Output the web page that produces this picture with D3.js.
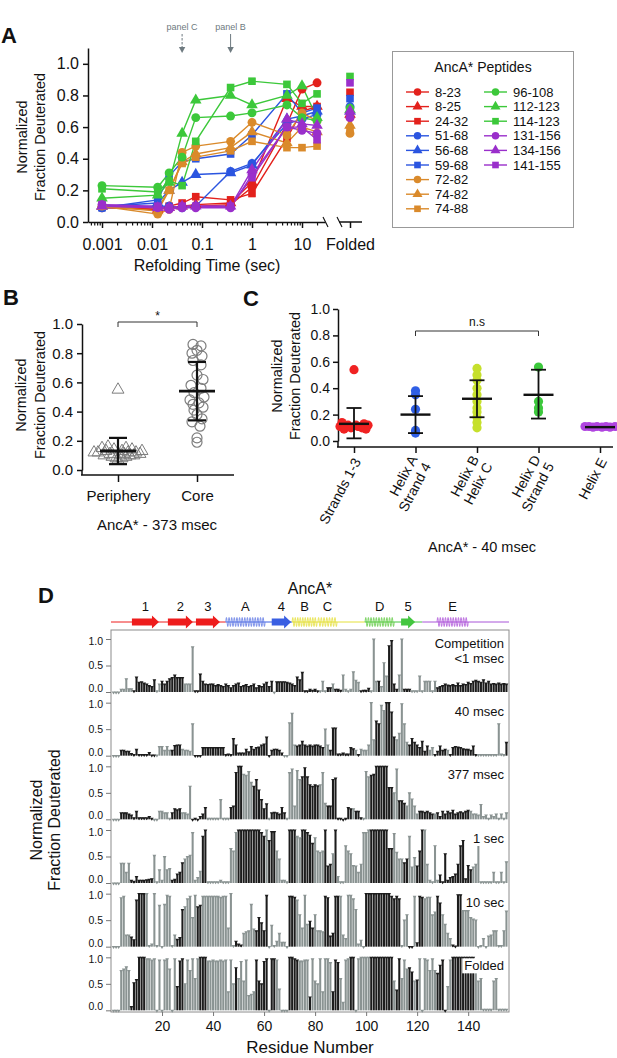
<!DOCTYPE html>
<html><head><meta charset="utf-8">
<script src="https://cdn.jsdelivr.net/npm/d3@7/dist/d3.min.js"></script>
<style>
html,body{margin:0;padding:0;background:#fff;}
svg{display:block;}
</style></head><body>
<svg id="chart" width="617" height="1058"></svg>
<script>
/* ================= DATA ================= */
// Panel A
const refoldTimes = [0.001, 0.013, 0.022, 0.04, 0.075, 0.373, 1, 5, 10, 20];
const peptideNames = ["8-23","8-25","24-32","51-68","56-68","59-68","72-82","74-82","74-88","96-108","112-123","114-123","131-156","134-156","141-155"];
const peptideValues = [
  [0.09,0.08,0.09,0.10,0.10,0.11,0.22,0.62,0.84,0.88],
  [0.10,0.08,0.09,0.10,0.11,0.12,0.25,0.78,0.73,0.73],
  [0.10,0.08,0.10,0.12,0.16,0.14,0.18,0.53,0.70,0.73],
  [0.09,0.10,0.10,0.09,0.10,0.32,0.37,0.62,0.65,0.68],
  [0.10,0.12,0.20,0.25,0.30,0.31,0.36,0.65,0.67,0.70],
  [0.09,0.14,0.29,0.38,0.40,0.43,0.55,0.81,0.69,0.72],
  [0.10,0.05,0.08,0.44,0.48,0.51,0.63,0.55,0.69,0.64],
  [0.10,0.07,0.20,0.38,0.43,0.47,0.57,0.50,0.60,0.57],
  [0.10,0.09,0.20,0.37,0.41,0.45,0.51,0.47,0.47,0.48],
  [0.23,0.22,0.31,0.41,0.66,0.67,0.69,0.74,0.66,0.64],
  [0.15,0.17,0.25,0.56,0.77,0.80,0.74,0.80,0.86,0.66],
  [0.21,0.19,0.26,0.23,0.51,0.85,0.89,0.87,0.75,0.81],
  [0.11,0.09,0.08,0.09,0.09,0.09,0.30,0.60,0.58,0.56],
  [0.10,0.09,0.09,0.10,0.10,0.10,0.33,0.65,0.62,0.61],
  [0.11,0.10,0.09,0.10,0.10,0.10,0.28,0.60,0.60,0.52]
];
const foldedValues = [0.66,0.68,0.82,0.73,0.70,0.78,0.56,0.61,0.59,0.72,0.71,0.92,0.66,0.70,0.88];
const timeTicks = [0.001, 0.01, 0.1, 1, 10];
const timeTickLabels = ["0.001","0.01","0.1","1","10"];
const fracTicks = [0, 0.2, 0.4, 0.6, 0.8, 1.0];
const panelArrowTimes = [0.04, 0.373];
const panelArrowLabels = ["panel C", "panel B"];

// Panel B
const bCategories = ["Periphery", "Core"];
const peripheryValues = [0.55,0.16,0.15,0.15,0.14,0.14,0.13,0.13,0.12,0.12,0.12,0.11,0.11,0.11,0.10,0.10,0.10,0.09,0.09,0.08,0.08,0.07,0.12,0.13,0.10];
const peripheryOffsets = [0,-10,8,-16,14,-4,4,-12,10,-20,18,-8,6,22,-14,2,12,-6,8,-2,4,0,-24,24,16];
const coreValues = [0.86,0.85,0.82,0.80,0.78,0.75,0.72,0.65,0.62,0.58,0.56,0.53,0.50,0.48,0.46,0.45,0.43,0.41,0.38,0.35,0.33,0.30,0.22,0.19];
const coreOffsets = [-4,4,0,-5,5,-4,4,0,6,-6,4,-3,7,-7,2,-4,6,-3,0,5,-5,3,0,0];
const bMean = [0.13, 0.54];
const bSdLow = [0.04, 0.34];
const bSdHigh = [0.22, 0.74];

// Panel C
const cCategories = ["Strands 1-3", "Helix A Strand 4", "Helix B Helix C", "Helix D Strand 5", "Helix E"];
const cLabelLines = [["Strands 1-3"], ["Helix A","Strand 4"], ["Helix B","Helix C"], ["Helix D","Strand 5"], ["Helix E"]];
const strandsValues = [0.54,0.14,0.13,0.12,0.12,0.11,0.11,0.10,0.10,0.10,0.09,0.09,0.12,0.11];
const strandsOffsets = [0,-12,10,-6,14,-14,4,-9,8,-3,12,-10,2,6];
const helixAValues = [0.38,0.35,0.24,0.08,0.06];
const helixBCValues = [0.55,0.50,0.46,0.40,0.35,0.30,0.25,0.22,0.18,0.14,0.10];
const helixDValues = [0.56,0.30,0.25,0.22];
const helixEValues = [0.11,0.11,0.105,0.11,0.105,0.11,0.105,0.11];
const helixEOffsets = [-15,-11,-7,-3,2,6,10,15];
const cMean = [0.13, 0.20, 0.32, 0.35, 0.105];
const cSdLow = [0.02, 0.06, 0.18, 0.17, null];
const cSdHigh = [0.25, 0.34, 0.46, 0.54, null];

// Panel D
const residueTicks = [20, 40, 60, 80, 100, 120, 140];
const dTimeLabels = [["Competition","<1 msec"], ["40 msec"], ["377 msec"], ["1 sec"], ["10 sec"], ["Folded"]];
const dRow1 = [0,0,0,0.05,0.05,0.25,0.06,0.06,0.02,0.28, 0.18,0.19,0.17,0.15,0.12,0.1,0.23,0.02,0.15,0.2, 0.15,0.2,0.25,0.27,0.32,0.27,0.27,0.27,0.15,0.15, 0.15,0.85,0.02,0.02,0.34,0.2,0.15,0.14,0.15,0.15, 0.12,0.14,0.12,0.1,0.15,0.12,0.08,0.12,0.15,0.17, 0.1,0.12,0.14,0.1,0.12,0.15,0.08,0.12,0.1,0.15, 0.18,0.1,0.2,0,0.19,0.19,0.19,0.19,0.18,0.17, 0.15,0.12,0.28,0.23,0.37,0.02,0.02,0.05,0.03,0.05, 0.02,0.02,0.2,0.02,0.08,0.08,0.15,0.05,0.05,0.03, 0.32,0.05,0.02,0.05,0.38,0.22,0.18,0.02,0.03,0.03, 0.07,0.02,1.0,0.2,0.2,0.1,0.55,0.3,0.87,0.97, 0.15,0.05,0.32,1.0,0.05,0.05,0.05,0.02,0.02,0.02, 0.3,0.02,0.2,0.2,0.2,0.02,0.2,0.08,0.1,0.12, 0.15,0.13,0.12,0.14,0.12,0.17,0.12,0.15,0.14,0.18, 0.16,0.2,0.22,0.2,0.18,0.23,0.17,0.2,0.15,0.16, 0.15,0.17,0.15,0.16,0.15];
const dRow1Shade = "ggggggggkk"+"kkkkkkkggk"+"kkkkkkkkgg"+"ggkkkkkkkk"+"kkkkkkkkkk"+"kkkkkkkkkk"+"kkkgkkkkkk"+"kkkkkkkkkk"+"kgggkkgkkk"+"gggggggkkk"+"kgggkgggkk"+"kkggkkkggg"+"gggggggkkk"+"kkkkkkkkkk"+"kkkkkkkkkk"+"kkkkk";
const dRow2 = [0,0,0,0.1,0.1,0.08,0.08,0.04,0.02,0.12, 0.02,0.02,0.02,0.02,0.06,0.01,0.01,0.01,0.17,0.17, 0.1,0.17,0.1,0.1,0.19,0.2,0.2,0.12,0.1,0.1, 0.08,0.6,0,0,0,0.15,0.15,0.15,0.15,0.15, 0.15,0.15,0.15,0.15,0.02,0.03,0.02,0.32,0.2,0.05, 0.05,0.05,0.12,0.07,0.17,0.12,0.15,0.16,0.2,0.22, 0.35,0,0.1,0.12,0.12,0.1,0.05,0,0,0.62, 0.8,0.2,0.18,0.2,0.27,0.2,0.18,0.2,0.18,0.2, 0.2,0.18,0.15,0.5,0.2,0.1,0.52,0.52,0.03,0.03, 0.05,0.03,0.03,0.15,0.13,0.1,0.02,0.12,0.1,0.1, 0.2,1.0,0.3,0.65,0.6,0.95,0.85,1.0,1.0,0.82, 0.35,0.3,0.42,0.98,0.6,0.25,0.2,0.32,0.25,0.2, 0.15,0.27,0.08,0.18,0.1,0.15,0.02,0.08,0.18,0.1, 0.12,0.1,0.02,0.15,0.17,0.16,0.15,0.13,0.12,0.12, 0.1,0.18,0.02,0.02,0.02,0.02,0.02,0.02,0.02,0.02, 0.02,0.6,0.03,0.02,0.25];
const dRow2Shade = "gggkkkkkkk"+"kkkkkkkggg"+"gggkkkkggg"+"ggkkkkkkkk"+"kkkkkkkkkk"+"kkkkkkkkkk"+"kkkkkkkggg"+"ggkkkkkkkk"+"kkkggkkkkk"+"kkkkkgkggg"+"gggkkggkkk"+"kgggggkkkk"+"kkkkggkkkk"+"kgkkkkkkkk"+"kkkggggggg"+"ggggk";
const dRow3 = [0,0,0,0.12,0.12,0.12,0.1,0.08,0.03,0.15, 0.03,0.03,0.03,0.03,0.05,0.02,0,0,0.15,0.15, 0.12,0.12,0.02,0.12,0.2,0.18,0.2,0.12,0.12,0.1, 0.62,0,0.02,0,0.05,0.1,0.22,0.02,0.02,0.02, 0.02,0.02,0.37,0.02,0.02,0.02,0.22,0.25,0.88,1.0, 1.0,0.85,0.83,0.9,0.7,0.62,0.75,0.55,0.37,0.2, 0.29,0.02,0.12,0.13,0.12,0.1,0.22,0.12,0.02,0.88, 0.95,0.25,0.92,0.75,0.8,0.97,0.8,0.65,0.62,0.65, 0.63,0.65,0.88,0.3,0.25,0.25,0.75,0.78,0.02,0.02, 0,0.02,0.22,0.2,0.2,0.15,0.15,0.03,0.02,0.9, 0.8,0.83,0.85,1.0,1.0,1.0,1.0,1.0,0.6,0.6, 0.5,0.95,0.35,0.35,0.3,0.25,0.5,0.38,0.25,0.1, 0.15,0.15,0.13,0.15,0.12,0.1,0.1,0.12,0.05,0.15, 0.1,0.15,0.12,0.17,0.1,0.12,0.14,0.12,0.15,0.17, 0.15,0.1,0.1,0.08,0.28,0.05,0.08,0.02,0.08,0.05, 0.1,0.02,0.1,0.02,0.12];
const dRow3Shade = "gggkkkkkkk"+"kkkkkkgggg"+"gggkkkkggg"+"gkkkkkkggg"+"ggggggkkkk"+"kggggkkkkk"+"kgkkkkkkgg"+"ggggkkkkkk"+"kgggkkkkkk"+"kkkkgkkkgg"+"gkkkkkkkkk"+"ggkkkggggg"+"kkkkkkgkkk"+"kkkkkkkkkk"+"gggggggggg"+"ggggg";
const dRow4 = [0,0,0,0.37,0.37,0.2,0.37,0.05,0.03,0.12, 0.05,0.05,0.05,0.06,0.07,0.08,0.52,0.02,0.25,0.05, 0.5,0.25,0.27,0.05,0.07,0.17,0.2,0.38,0.45,0.5, 0.52,0.95,0.05,0.1,0.22,0.88,1.0,0.02,0.02,0.02, 0.02,0.02,0.05,0.02,0.02,0.02,0.65,0.6,0.95,1.0, 1.0,1.0,1.0,1.0,1.0,1.0,1.0,1.0,0.95,0.88, 1.0,0.8,0.97,0.97,0.6,0.45,0.05,0.05,0.02,1.0, 1.0,1.0,0.88,0.85,1.0,1.0,0.95,0.9,0.75,0.85, 0.6,0.58,0.6,1.0,0.32,0.35,0.55,1.0,0.12,0.02, 0.02,0.7,0.6,0.55,0.33,0.32,0.2,0.35,0.95,0.95, 1.0,1.0,1.0,1.0,1.0,1.0,1.0,1.0,0.65,0.65, 0.93,0.58,0.45,0.45,0.38,0.45,0.88,0.3,0.48,0.32, 0.6,1.0,1.0,0.35,0.05,0.02,0.7,0.05,0.15,0.02, 0.55,0.05,0.1,0.12,0.17,0.35,0.7,0.8,0.08,0.33, 0.25,0.3,0.35,0.78,0.02,0.02,0.02,0.02,0.02,0.2, 0.02,0.02,0.2,0.02,0.4];
const dRow4Shade = "gggggggkkk"+"kkkkkkgggg"+"gggkkkkkgg"+"gggggkkggg"+"gggggggggk"+"kkkkkkkkkk"+"gkkkgggggk"+"kkggkkkkkg"+"gggkkkgkgg"+"gggggggggg"+"gkkkkkkkkk"+"ggggkkgggk"+"kkggggggkk"+"kkkkkkkkkk"+"kggggggggg"+"ggggg";
const dRow5 = [0,0,0,0.92,0.95,0.22,0.22,0.18,0.13,0.88, 1.0,1.0,1.0,1.0,0.02,0.05,1.0,0.02,0.78,0, 0.8,0.97,0.95,0.02,0.22,0.14,0.17,0.7,0.75,0.9, 0.95,0.55,0.97,0.75,0.78,0.95,0.95,0.95,0.95,0.95, 0.95,0.95,0.93,0.95,0.95,0.35,1.0,0.02,0.1,0.05, 0.03,0.25,0.28,0.3,0.8,0.33,0.3,0.55,0.45,0.3, 0.97,0,0.4,0.02,0.1,0.25,0.08,0.08,0,0.95, 0.95,0.93,0.88,0.6,0.35,0.97,0.42,0.48,0.35,0.6, 0.3,0.3,0.28,0.95,0.92,0.2,0.25,0.95,0.95,0.95, 0.22,0.15,0.97,0.97,0.9,0.7,0.05,0.12,0,1.0, 1.0,1.0,1.0,1.0,1.0,1.0,1.0,1.0,1.0,0.95, 0.9,0.95,0.9,0.02,0.5,0.6,0,0,0.95,0.07, 0.95,0.93,0.9,0.93,0.93,0.6,0.65,0.95,0.82,0.6, 0.42,0.25,0.15,0.03,0.01,0.98,0.98,0.68,0.68,0.68, 0.55,0.52,0.5,0,0.02,0.15,0,0.2,0.22,0.3, 0.3,0.02,0.02,0.3,0.67];
const dRow5Shade = "gggggggkkk"+"kkkggggggg"+"gggggkkkgg"+"gggkkggggg"+"ggggggggkk"+"kgggggkkkk"+"kggggggggk"+"kkgggggkkg"+"gggkkkkkkg"+"gggggggggk"+"kkkkkkkkkk"+"kkkgggkkgk"+"kkgggggkkg"+"gggkkkkggg"+"gggggggggg"+"ggggg";
const dRow6 = [0,0,0,0.75,0.78,0.82,0.75,0.07,0.52,0.58, 1.0,1.0,1.0,0.97,0.97,0.95,0.97,0,0.95,0, 0.95,0.97,0.78,0,0.97,0.45,0.93,0.97,0.5,0.95, 0.75,0.97,0.6,0.97,1.0,1.0,1.0,0.93,0.93,0.95, 0.93,0.93,0.95,0.93,0.95,0.35,0.95,0.5,0.8,0.6, 0.92,0.55,0.95,0.28,0.3,0.35,0.95,0.55,0.5,0.92, 0.97,0,0.97,0.97,0.95,0.4,0,0,0,1.0, 1.0,0.97,0.95,0.93,0.93,0.95,0.95,0.25,0.97,0.55, 0.5,0.97,0.35,0.97,0.97,0.9,0.35,0.95,0.9,0.6, 0.15,0.95,0.97,1.0,1.0,0,0.97,1.0,1.0,1.0, 1.0,1.0,1.0,1.0,1.0,1.0,1.0,1.0,1.0,1.0, 0.55,0.38,0.97,0.6,0.95,0.78,0.8,0.72,0.55,0.57, 0.97,0,0.97,0.95,0.75,0.97,0.75,0.7,0.85,0.95, 0,0.45,0.95,1.0,1.0,1.0,1.0,1.0,1.0,1.0, 1.0,1.0,0.95,0.55,0.6,0.02,0.02,0.02,0.02,0.55, 0.6,0.02,0.02,0.02,0.02];
const dRow6Shade = "gggggggkkk"+"kkkggggggg"+"gggggkkkgg"+"ggggkkkggg"+"ggggggggkg"+"ggggggkkkk"+"kgkkgggggk"+"kkkggggkgg"+"ggggggkkkg"+"gggkkggggg"+"gkkkkkkkkk"+"gkkgggkkgk"+"gggggggkkk"+"kggkkkkkkk"+"kkgggggggg"+"ggggg";
const dRows = [dRow1, dRow2, dRow3, dRow4, dRow5, dRow6];
const dShades = [dRow1Shade, dRow2Shade, dRow3Shade, dRow4Shade, dRow5Shade, dRow6Shade];
const dTicks = [0, 0.5, 1.0];

// Secondary structure of AncA* (residue ranges)
const ssSegments = [[0,45],[45,71],[71,99.5],[99.5,122],[122,156]];
const ssElements = [
  {label:"1", type:"strand", start:8.2,  end:18.8,  seg:0},
  {label:"2", type:"strand", start:22.3, end:32.1,  seg:0},
  {label:"3", type:"strand", start:33.3, end:42.7,  seg:0},
  {label:"A", type:"helix",  start:45,   end:60.4,  seg:1},
  {label:"4", type:"strand", start:63,   end:70.6,  seg:1},
  {label:"B", type:"helix",  start:71,   end:80.8,  seg:2},
  {label:"C", type:"helix",  start:81.1, end:88.6,  seg:2},
  {label:"D", type:"helix",  start:99.6, end:111,   seg:3},
  {label:"5", type:"strand", start:113.7,end:119.2, seg:3},
  {label:"E", type:"helix",  start:127.8,end:140,   seg:4}
];

/* ================= STYLE / DRAW ================= */
const FONT = '"Liberation Sans", Arial, Helvetica, sans-serif';
const svg = d3.select("#chart");
svg.append("rect").attr("width",617).attr("height",1058).attr("fill","#fff");

function styleAxis(g, fs, col, sw) {
  g.attr("font-family", FONT);
  g.selectAll("text").attr("font-size", fs).attr("fill", "#111").attr("font-family", FONT);
  g.selectAll("line").attr("stroke", col || "#111").attr("stroke-width", sw || 1.3);
  g.select(".domain").attr("stroke", col || "#111").attr("stroke-width", sw || 1.3);
}
function txt(g, x, y, s, fs, opts) {
  opts = opts || {};
  return g.append("text").attr("x", x).attr("y", y).text(s)
    .attr("font-family", opts.family || FONT).attr("font-size", fs)
    .attr("font-weight", opts.weight || "normal")
    .attr("text-anchor", opts.anchor || "start")
    .attr("fill", opts.fill || "#111");
}
function yTitle(g, x1, x2, cy, fs) {
  txt(g, 0, 0, "Normalized", fs, {anchor:"middle"}).attr("transform", `translate(${x1},${cy}) rotate(-90)`);
  txt(g, 0, 0, "Fraction Deuterated", fs, {anchor:"middle"}).attr("transform", `translate(${x2},${cy}) rotate(-90)`);
}

/* ---------- Panel A ---------- */
const gA = svg.append("g");
const groupColors = ["#e3211c", "#2b55e0", "#da8a2b", "#3cc83a", "#9a2fcb"];
const shapes = [d3.symbolCircle, d3.symbolTriangle, d3.symbolSquare];
const shapeSizes = [62, 58, 58];
const ax = d3.scaleLog().domain([Math.pow(10,-3.28), Math.pow(10,1.46)]).range([88, 325]);
const ay = d3.scaleLinear().domain([0, 1.1]).range([222, 48]);
const foldX = d3.scalePoint().domain(["Folded"]).range([350, 350]);

txt(gA, 1, 43, "A", 22, {weight:"bold"});
const gAy = gA.append("g").attr("transform", "translate(88,0)")
  .call(d3.axisLeft(ay).tickValues(fracTicks).tickFormat(d3.format(".1f")).tickSize(5).tickSizeOuter(0).tickPadding(4));
styleAxis(gAy, 16, "#111", 1.5);
const minor = [];
for (let e = -4; e <= 1; e++) for (let k = 2; k <= 9; k++) { const v = k * Math.pow(10, e); if (v >= ax.domain()[0] && v <= ax.domain()[1]) minor.push(v); }
const gAxm = gA.append("g").attr("transform", "translate(0,222)")
  .call(d3.axisBottom(ax).tickValues(minor).tickFormat("").tickSize(3.5).tickSizeOuter(0));
styleAxis(gAxm, 16, "#111", 1.2);
const gAx = gA.append("g").attr("transform", "translate(0,222)")
  .call(d3.axisBottom(ax).tickValues(timeTicks).tickFormat((d,i) => timeTickLabels[i]).tickSize(6).tickSizeOuter(0).tickPadding(11));
styleAxis(gAx, 16, "#111", 1.5);
gAx.select(".domain").remove();
gAxm.select(".domain").attr("stroke-width", 1.5);
const gAf = gA.append("g").attr("transform", "translate(0,222)")
  .call(d3.axisBottom(foldX).tickSize(6).tickPadding(11).tickSizeOuter(0));
styleAxis(gAf, 16, "#111", 1.5);
gAf.select(".domain").remove();
gA.append("line").attr("x1", 339).attr("x2", 362).attr("y1", 222).attr("y2", 222).attr("stroke", "#111").attr("stroke-width", 1.5);
[[323,217,328,227],[337,217,342,227]].forEach(b => gA.append("line").attr("x1",b[0]).attr("y1",b[1]).attr("x2",b[2]).attr("y2",b[3]).attr("stroke","#111").attr("stroke-width",1.1));
txt(gA, 207, 271, "Refolding Time (sec)", 16, {anchor:"middle"});
yTitle(gA, 27, 45, 137, 14.5);

panelArrowTimes.forEach((t, i) => {
  const x = ax(t);
  txt(gA, x, 30, panelArrowLabels[i], 9, {anchor:"middle", fill:"#6e7a80"});
  gA.append("line").attr("x1", x).attr("x2", x).attr("y1", 34).attr("y2", 51)
    .attr("stroke", "#6e7a80").attr("stroke-width", 1).attr("stroke-dasharray", i === 0 ? "2.5,1.5" : null);
  gA.append("path").attr("d", `M${x-3.2},${47} L${x+3.2},${47} L${x},${53} Z`).attr("fill", "#6e7a80");
});

const lineGen = d3.line().defined(d => d[1] != null).x(d => ax(d[0])).y(d => ay(d[1]));
peptideValues.forEach((vals, i) => {
  const pts = refoldTimes.map((t, j) => [t, vals[j]]);
  gA.append("path").attr("d", lineGen(pts)).attr("fill", "none")
    .attr("stroke", groupColors[Math.floor(i / 3)]).attr("stroke-width", 1.4);
});
peptideValues.forEach((vals, i) => {
  const col = groupColors[Math.floor(i / 3)];
  const sym = d3.symbol().type(shapes[i % 3]).size(shapeSizes[i % 3]);
  gA.selectAll(null).data(refoldTimes.map((t, j) => [t, vals[j]]).filter(d => d[1] != null)).join("path")
    .attr("d", sym).attr("transform", d => `translate(${ax(d[0])},${ay(d[1])})`).attr("fill", col);
  gA.append("path").attr("d", sym).attr("transform", `translate(${foldX("Folded")},${ay(foldedValues[i])})`).attr("fill", col);
});

const gL = svg.append("g");
gL.append("rect").attr("x", 392.5).attr("y", 51.5).attr("width", 181).attr("height", 176)
  .attr("fill", "#fff").attr("stroke", "#999").attr("stroke-width", 1);
txt(gL, 483, 72, "AncA* Peptides", 14, {anchor:"middle"});
peptideNames.forEach((name, i) => {
  const col = i < 9 ? 0 : 1;
  const row = i < 9 ? i : i - 9;
  const y = 92 + row * 14.6;
  const x0 = col === 0 ? 406 : 484;
  const c = groupColors[Math.floor(i / 3)];
  gL.append("line").attr("x1", x0).attr("x2", x0 + 23).attr("y1", y).attr("y2", y).attr("stroke", c).attr("stroke-width", 1.4);
  gL.append("path").attr("d", d3.symbol().type(shapes[i % 3]).size(44)).attr("transform", `translate(${x0 + 11.5},${y})`).attr("fill", c);
  txt(gL, x0 + 29, y + 4.6, name, 13);
});

/* ---------- Panel B ---------- */
const gB = svg.append("g");
const by = d3.scaleLinear().domain([0, 1]).range([470, 324]);
const bx = d3.scalePoint().domain(bCategories).range([118, 197]);
txt(gB, 3, 305, "B", 22, {weight:"bold"});
const gBy = gB.append("g").attr("transform", "translate(82,0)")
  .call(d3.axisLeft(by).tickValues(fracTicks).tickFormat(d3.format(".1f")).tickSize(5).tickSizeOuter(0).tickPadding(4));
styleAxis(gBy, 15, "#111", 1.5);
gB.append("line").attr("x1", 82).attr("x2", 82).attr("y1", 470).attr("y2", 475).attr("stroke", "#111").attr("stroke-width", 1.5);
const gBx = gB.append("g").attr("transform", "translate(0,475)")
  .call(d3.axisBottom(bx).tickSize(7).tickPadding(8).tickSizeOuter(0));
styleAxis(gBx, 15, "#111", 1.5);
gBx.select(".domain").remove();
gB.append("line").attr("x1", 81).attr("x2", 234).attr("y1", 475).attr("y2", 475).attr("stroke", "#111").attr("stroke-width", 1.5);
txt(gB, 157, 530, "AncA* - 373 msec", 15, {anchor:"middle"});
yTitle(gB, 26, 45, 395, 14.5);
gB.append("path").attr("d", `M${bx("Periphery")},327 V322 H${bx("Core")} V327`).attr("fill", "none").attr("stroke", "#333").attr("stroke-width", 1);
txt(gB, (bx("Periphery") + bx("Core")) / 2, 320, "*", 12, {anchor:"middle"});
gB.selectAll(null).data(peripheryValues).join("path")
  .attr("d", d3.symbol().type(d3.symbolTriangle).size(62))
  .attr("transform", (d, i) => `translate(${bx("Periphery") + peripheryOffsets[i]},${by(d)})`)
  .attr("fill", "none").attr("stroke", "#7d7d7d").attr("stroke-width", 1);
gB.selectAll(null).data(coreValues).join("circle")
  .attr("cx", (d, i) => bx("Core") + coreOffsets[i]).attr("cy", d => by(d)).attr("r", 5)
  .attr("fill", "none").attr("stroke", "#7d7d7d").attr("stroke-width", 1.2);
function errBar(g, x, mean, lo, hi, yS, wMean, wCap, sw) {
  if (lo != null) {
    g.append("line").attr("x1", x).attr("x2", x).attr("y1", yS(lo)).attr("y2", yS(hi)).attr("stroke", "#111").attr("stroke-width", sw);
    [lo, hi].forEach(v => g.append("line").attr("x1", x - wCap / 2).attr("x2", x + wCap / 2).attr("y1", yS(v)).attr("y2", yS(v)).attr("stroke", "#111").attr("stroke-width", sw));
  }
  g.append("line").attr("x1", x - wMean / 2).attr("x2", x + wMean / 2).attr("y1", yS(mean)).attr("y2", yS(mean)).attr("stroke", "#111").attr("stroke-width", sw + 0.6);
}
bCategories.forEach((c, i) => errBar(gB, bx(c), bMean[i], bSdLow[i], bSdHigh[i], by, 36, 18, 2.2));

/* ---------- Panel C ---------- */
const gC = svg.append("g");
const cy = d3.scaleLinear().domain([0, 1]).range([441, 309]);
const cx = d3.scalePoint().domain(cCategories).range([354, 600]);
const cColors = ["#f02222", "#2f5fe6", "#c6e02c", "#3cc83c", "#b045e0"];
txt(gC, 243, 306, "C", 22, {weight:"bold"});
const gCy = gC.append("g").attr("transform", "translate(338,0)")
  .call(d3.axisLeft(cy).tickValues([0, 0.2, 0.4, 0.6, 0.8, 1.0]).tickFormat(d3.format(".1f")).tickSize(5).tickSizeOuter(0).tickPadding(3));
styleAxis(gCy, 14, "#111", 1.5);
gC.append("line").attr("x1", 338).attr("x2", 338).attr("y1", 441).attr("y2", 447).attr("stroke", "#111").attr("stroke-width", 1.5);
const gCx = gC.append("g").attr("transform", "translate(0,447)")
  .call(d3.axisBottom(cx).tickSize(6).tickFormat("").tickSizeOuter(0));
styleAxis(gCx, 14, "#111", 1.5);
gCx.select(".domain").remove();
gC.append("line").attr("x1", 337).attr("x2", 613).attr("y1", 447).attr("y2", 447).attr("stroke", "#111").attr("stroke-width", 1.5);
cCategories.forEach((c, i) => {
  const t = gC.append("text").attr("transform", `translate(${cx(c) + 3},${459}) rotate(-62)`)
    .attr("text-anchor", "end").attr("font-family", FONT).attr("font-size", 14).attr("fill", "#111");
  const lines = cLabelLines[i];
  lines.forEach((s, j) => t.append("tspan").attr("x", 0).attr("dy", j === 0 ? (lines.length === 1 ? "0.35em" : "-0.05em") : "1.1em").text(s));
});
txt(gC, 482, 552, "AncA* - 40 msec", 14.5, {anchor:"middle"});
yTitle(gC, 282, 300, 376, 14.5);
gC.append("path").attr("d", `M${cx(cCategories[1])},336 V331 H${cx(cCategories[3])} V336`).attr("fill", "none").attr("stroke", "#333").attr("stroke-width", 1);
txt(gC, (cx(cCategories[1]) + cx(cCategories[3])) / 2, 326, "n.s", 12, {anchor:"middle"});
const cPointSets = [
  strandsValues.map((v, i) => [0, v, strandsOffsets[i]]),
  helixAValues.map(v => [1, v, 0]),
  helixBCValues.map(v => [2, v, 0]),
  helixDValues.map(v => [3, v, 0]),
  helixEValues.map((v, i) => [4, v, helixEOffsets[i]])
];
cPointSets.forEach(set => {
  gC.selectAll(null).data(set).join("circle")
    .attr("cx", d => cx(cCategories[d[0]]) + d[2]).attr("cy", d => cy(d[1])).attr("r", 4.6)
    .attr("fill", d => cColors[d[0]]);
});
cCategories.forEach((c, i) => errBar(gC, cx(c), cMean[i], cSdLow[i], cSdHigh[i], cy, 30, 15, 1.8));

/* ---------- Panel D ---------- */
const gD = svg.append("g");
const dx = d3.scaleLinear().domain([0, 156]).range([111, 509]);
const rowBand = d3.scaleBand().domain(d3.range(6)).range([630, 1012]);
const BLACK = "#1c1c1c", GRAY = "#8a9392";
txt(gD, 38, 603, "D", 22, {weight:"bold"});
txt(gD, dx(78), 594, "AncA*", 16, {anchor:"middle"});
const ssColors = ["#ee1c1c", "#3a5fe2", "#e4e03a", "#44c640", "#a855d8"];
const helixColors = ["#ee1c1c", "#6f86e6", "#e6e24c", "#6fcf55", "#b564dc"];
const trackY = 622;
ssSegments.forEach((s, i) => gD.append("line").attr("x1", dx(s[0])).attr("x2", dx(s[1])).attr("y1", trackY).attr("y2", trackY).attr("stroke", ssColors[i]).attr("stroke-width", 1));
ssElements.forEach(el => {
  const x0 = dx(el.start), x1 = dx(el.end);
  if (el.type === "strand") {
    const hx = x1 - 7;
    gD.append("path").attr("d", `M${x0},${trackY-3.5} H${hx} V${trackY-6.5} L${x1},${trackY} L${hx},${trackY+6.5} V${trackY+3.5} H${x0} Z`)
      .attr("fill", ssColors[el.seg]);
  } else {
    const n = Math.round((x1 - x0) / 2.6);
    const pts = d3.range(0, n * 16 + 1).map(k => {
      const t = k / (n * 16);
      return [x0 + (x1 - x0) * t, trackY - 4.5 * Math.sin(2 * Math.PI * n * t)];
    });
    gD.append("path").attr("d", d3.line()(pts)).attr("fill", "none").attr("stroke", helixColors[el.seg]).attr("stroke-width", 0.9);
  }
  txt(gD, (x0 + x1) / 2, 611, el.label, 13, {anchor:"middle"});
});
gD.append("rect").attr("x", 111).attr("y", 630).attr("width", 398).attr("height", 382)
  .attr("fill", "none").attr("stroke", "#8c8c8c").attr("stroke-width", 1);
const barW = 2.05;
dRows.forEach((vals, r) => {
  const base = rowBand(r) + 62;
  const ys = d3.scaleLinear().domain([0, 1]).range([base, base - 53]);
  const g = gD.append("g");
  const ya = g.append("g").attr("transform", "translate(111,0)")
    .call(d3.axisLeft(ys).tickValues(dTicks).tickFormat(d3.format(".1f")).tickSize(5).tickSizeOuter(0).tickPadding(3));
  ya.select(".domain").remove();
  styleAxis(ya, 10.5, "#777", 1);
  // nudge the end labels apart so neighbouring rows' 0.0 / 1.0 do not collide
  ya.selectAll(".tick text").attr("dy", d => d === 0 ? "-0.05em" : d === 1 ? "0.5em" : "0.32em");
  const data = vals.map((v, i) => ({res: i + 1, v: v, shade: dShades[r][i]}));
  g.selectAll(null).data(data).join("rect")
    .attr("x", d => dx(d.res) - barW / 2).attr("width", barW)
    .attr("y", d => ys(d.v)).attr("height", d => Math.max(0, base - ys(d.v)))
    .attr("fill", d => d.shade === "k" ? BLACK : GRAY);
  g.selectAll(null).data(data).join("path")
    .attr("d", d => { const x = dx(d.res), y = ys(d.v); return `M${x-1.9},${y-0.6} H${x+1.9} L${x},${y+2.4} Z`; })
    .attr("fill", d => d.shade === "k" ? BLACK : GRAY);
  const top = base - 53;
  const lines = dTimeLabels[r];
  const lg = g.append("g");
  lines.forEach((s, j) => {
    const y = lines.length === 2 ? top + 9 + j * 15 : top + 13;
    const t = txt(lg, 504, y, s, 13, {anchor:"end"});
    const bb = t.node().getBBox();
    lg.insert("rect", "text").attr("x", bb.x - 2).attr("y", bb.y).attr("width", bb.width + 4).attr("height", bb.height).attr("fill", "#fff");
  });
});
const gDx = gD.append("g").attr("transform", "translate(0,1012)")
  .call(d3.axisBottom(dx).tickValues(residueTicks).tickSize(4).tickPadding(5).tickSizeOuter(0));
gDx.select(".domain").remove();
styleAxis(gDx, 14, "#777", 1);
txt(gD, 310, 1053, "Residue Number", 17, {anchor:"middle"});
yTitle(gD, 42, 60, 820, 16);
</script></body></html>
